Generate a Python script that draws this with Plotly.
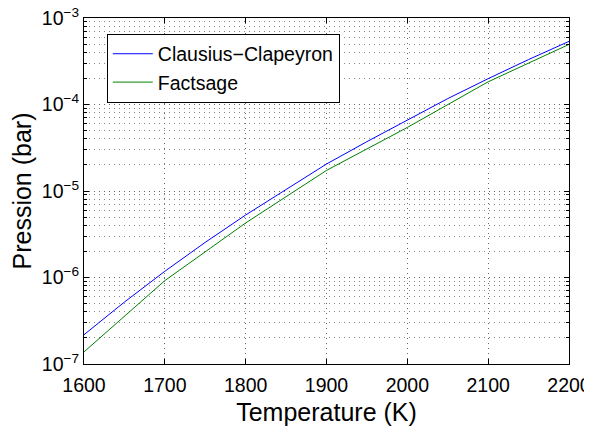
import plotly.graph_objects as go

# temperature (K)
temp_cc = [1600, 1650, 1700, 1750, 1800, 1850, 1900, 1950, 2000, 2050, 2100, 2150, 2200]
p_cc = [2.18e-7, 5.2e-7, 1.18e-6, 2.55e-6, 5.28e-6, 1.05e-5, 2.05e-5, 3.72e-5,
        6.6e-5, 1.17e-4, 1.99e-4, 3.31e-4, 5.37e-4]

temp_fs = [1600, 1700, 1800, 1900, 2000, 2100, 2200]
p_fs = [1.38e-7, 9.2e-7, 4.27e-6, 1.73e-5, 5.43e-5, 1.83e-4, 4.95e-4]

x_ticks = [1600, 1700, 1800, 1900, 2000, 2100, 2200]
y_ticks = [1e-7, 1e-6, 1e-5, 1e-4, 1e-3]
y_labels = ["10<sup>\u22127</sup>", "10<sup>\u22126</sup>", "10<sup>\u22125</sup>",
            "10<sup>\u22124</sup>", "10<sup>\u22123</sup>"]
y_minor = [m * 10.0 ** e for e in range(-7, -3) for m in range(2, 10)]

font = "Liberation Sans, Arial, sans-serif"
dots = "1px,4px"

fig = go.Figure()
fig.add_trace(go.Scatter(x=temp_cc, y=p_cc, mode="lines", name="Clausius\u2212Clapeyron",
                         legendgroup="a", line=dict(color="#0000ff", width=1)))
fig.add_trace(go.Scatter(x=temp_fs, y=p_fs, mode="lines", name="Factsage",
                         legendgroup="b", line=dict(color="#008000", width=1)))

# page body has an 8px margin, so the figure is 8px smaller than the window
fig.update_layout(
    width=584, height=430,
    margin=dict(l=76, r=23, t=10, b=74),
    paper_bgcolor="white", plot_bgcolor="white",
    font=dict(family=font, size=19.5, color="black"),
    showlegend=True,
    legend=dict(x=0.047, y=0.955, xanchor="left", yanchor="top",
                bordercolor="black", borderwidth=1, bgcolor="white",
                font=dict(size=19.5), tracegroupgap=0, itemwidth=40),
)
fig.update_xaxes(
    range=[1600, 2200], tickvals=x_ticks, automargin=False, ticklabelstandoff=4,
    ticklabeloverflow="allow",
    title=dict(text="Temperature (K)", font=dict(size=25), standoff=8),
    showline=True, linecolor="black", linewidth=1, mirror="ticks",
    ticks="inside", ticklen=5, tickcolor="black",
    showgrid=True, gridcolor="#666666", griddash=dots, gridwidth=1,
    zeroline=False,
)
fig.update_yaxes(
    type="log", range=[-7, -3], tickvals=y_ticks, ticktext=y_labels, automargin=False,
    ticklabeloverflow="allow",
    title=dict(text="Pression (bar)", font=dict(size=25), standoff=9),
    showline=True, linecolor="black", linewidth=1, mirror="ticks",
    ticks="inside", ticklen=5, tickcolor="black",
    showgrid=True, gridcolor="#666666", griddash=dots, gridwidth=1,
    minor=dict(tickvals=y_minor, ticks="inside", ticklen=3, tickcolor="black",
               showgrid=True, gridcolor="#888888", griddash=dots, gridwidth=1),
    zeroline=False,
)

fig.write_html("out.html")
